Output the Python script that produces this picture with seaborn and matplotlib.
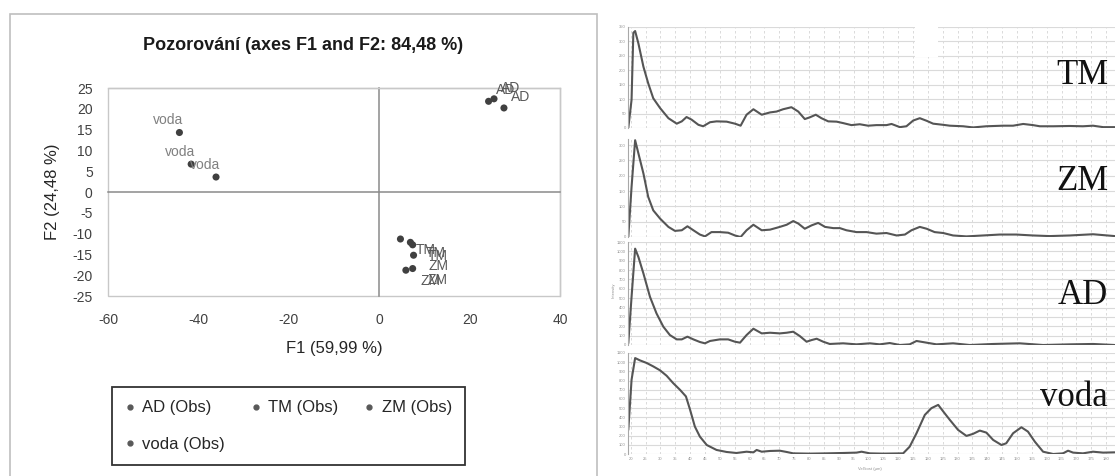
import numpy as np
import pandas as pd
import matplotlib
matplotlib.use("Agg")
import matplotlib.pyplot as plt
import seaborn as sns
from matplotlib.patches import Rectangle
from matplotlib.lines import Line2D

# ---------------- PCA scatter data ----------------
groups = ["AD", "TM", "ZM", "voda"]
ad_f1 = [24.2, 25.4, 27.6]
ad_f2 = [21.8, 22.4, 20.2]
tm_f1 = [4.7, 6.9, 7.4]
tm_f2 = [-11.3, -12.1, -12.7]
zm_f1 = [7.6, 5.9, 7.4]
zm_f2 = [-15.2, -18.8, -18.4]
voda_f1 = [-44.2, -41.6, -36.1]
voda_f2 = [14.3, 6.7, 3.6]
x_ticks = [-60, -40, -20, 0, 20, 40]
y_ticks = [-25, -20, -15, -10, -5, 0, 5, 10, 15, 20, 25]
title = "Pozorování (axes F1 and F2: 84,48 %)"
xlabel = "F1 (59,99 %)"
ylabel = "F2 (24,48 %)"
legend_labels = ["AD (Obs)", "TM (Obs)", "ZM (Obs)", "voda (Obs)"]

# ---------------- spectra data ----------------
spec_names = ["TM", "ZM", "AD", "voda"]
tm_x = [19.2, 20.3, 20.9, 21.5, 22.6, 24.3, 25.9, 27.6, 29.9, 32.7, 35.5, 37.2, 38.8, 40.5, 42.8, 44.4,
        46.7, 48.9, 52.3, 55.1, 57.0, 59.0, 61.3, 64.1, 66.9, 69.1, 71.3, 74.1, 76.4, 78.6, 80.3, 82.3,
        84.2, 86.5, 89.3, 91.5, 94.3, 97.1, 99.9, 102.7, 106.1, 107.8, 110.6, 112.8, 115.1, 117.3, 119.6,
        121.8, 125.2, 127.4, 131.9, 135.2, 139.7, 145.3, 148.7, 152.1, 155.4, 157.7, 162.2, 167.8, 172.2,
        175.6, 179.0, 182.9]
tm_y = [0, 98, 330, 336, 293, 212, 155, 103, 69, 34, 15, 23, 38, 29, 11, 6,
        20, 23, 22, 15, 8, 46, 65, 46, 54, 57, 65, 72, 57, 31, 37, 46,
        34, 23, 22, 17, 10, 13, 8, 10, 10, 14, 3, 6, 26, 34, 25,
        15, 11, 8, 6, 2, 6, 8, 8, 14, 10, 6, 6, 7, 6,
        8, 3, 3]
zm_x = [19.2, 20.3, 21.5, 22.6, 24.3, 25.9, 27.6, 29.9, 32.7, 34.9, 37.2, 39.1, 41.1, 43.3, 45.0, 47.2,
        50.0, 52.8, 55.1, 57.0, 59.0, 61.3, 64.1, 66.9, 70.2, 72.5, 74.7, 76.4, 78.6, 80.9, 83.1, 85.4,
        88.2, 90.4, 92.6, 96.0, 99.4, 102.7, 106.1, 109.5, 112.3, 114.5, 117.3, 119.6, 122.3, 125.2,
        128.5, 133.0, 138.6, 144.2, 149.8, 155.4, 161.0, 167.8, 175.6, 182.9]
zm_y = [0, 164, 316, 273, 207, 131, 87, 60, 33, 20, 22, 35, 22, 8, 2, 16,
        16, 14, 5, 0, 22, 40, 22, 24, 33, 40, 52, 44, 27, 38, 46, 33,
        29, 29, 22, 16, 16, 11, 13, 5, 8, 22, 33, 27, 16, 13,
        5, 2, 5, 8, 8, 5, 3, 5, 9, 3]
ad_x = [19.2, 20.3, 21.5, 22.6, 24.3, 26.5, 28.7, 31.0, 33.2, 35.5, 37.2, 39.1, 41.1, 43.3, 45.0, 46.7,
        50.0, 52.8, 55.1, 56.8, 59.0, 61.3, 64.1, 66.9, 70.2, 72.5, 74.7, 76.9, 79.2, 80.9, 82.6, 84.8,
        87.0, 91.5, 96.0, 100.5, 103.8, 107.2, 110.6, 113.9, 116.2, 119.0, 122.9, 128.5, 134.1, 142.0,
        150.9, 158.8, 167.8, 175.6, 182.9]
ad_y = [18, 514, 1029, 940, 763, 514, 337, 195, 106, 60, 60, 89, 60, 32, 18, 43,
        60, 60, 35, 25, 106, 174, 124, 131, 124, 131, 142, 96, 35, 53, 67, 35,
        11, 18, 7, 18, 7, 21, 0, 7, 43, 28, 7, 18, 0, 11,
        18, 0, 7, 11, 0]
voda_x = [19.2, 20.3, 21.5, 23.1, 25.4, 27.6, 29.9, 32.1, 34.3, 36.6, 38.6, 40.0, 41.6, 43.3, 45.6, 48.9,
          52.3, 55.6, 59.0, 61.3, 62.4, 64.1, 66.9, 70.2, 72.5, 74.7, 80.3, 85.9, 91.5, 96.0, 97.7, 100.5,
          105.0, 111.7, 113.9, 116.2, 119.0, 121.2, 123.5, 125.2, 127.4, 130.2, 133.0, 135.2, 137.5, 139.7,
          142.0, 144.8, 146.4, 148.7, 151.5, 153.7, 156.0, 158.8, 162.2, 165.5, 167.2, 168.9, 172.2, 175.6,
          179.0, 182.9]
voda_y = [262, 809, 1045, 1020, 991, 954, 911, 852, 772, 699, 627, 481, 299, 189, 98, 44,
          22, 11, 25, 18, 44, 25, 33, 36, 22, 7, 4, 7, 11, 15, 25, 7,
          4, 7, 80, 226, 426, 499, 535, 463, 372, 262, 197, 219, 255, 233,
          153, 98, 117, 226, 291, 244, 135, 25, 0, 7, 36, 15, 7, 25,
          15, 18]
spec_xticks = list(range(20, 185, 5))
tm_yticks = [0, 50, 100, 150, 200, 250, 300, 350]
zm_yticks = [0, 50, 100, 150, 200, 250, 300]
ad_yticks = [0, 100, 200, 300, 400, 500, 600, 700, 800, 900, 1000, 1100]
voda_yticks = [0, 100, 200, 300, 400, 500, 600, 700, 800, 900, 1000, 1100]
spec_xlabel = "Velikost (µm)"
spec_ylabel = "Intensity"

# ---------------- figure ----------------
sns.set_style("white")
plt.rcParams["font.family"] = ["Liberation Sans", "DejaVu Sans"]
plt.rcParams["axes.unicode_minus"] = False

W, H = 1115, 476
fig = plt.figure(figsize=(W / 100, H / 100), dpi=100)


def rect(l, t, r, b):
    return [l / W, 1 - b / H, (r - l) / W, (b - t) / H]


def fx(px):
    return px / W


def fy(py):
    return 1 - py / H


# outer box of left chart
fig.patches.append(Rectangle((fx(10), -0.02), fx(597) - fx(10), fy(14) + 0.02,
                             transform=fig.transFigure, fill=False, ec="#bfbfbf", lw=1.2))

ax = fig.add_axes(rect(108, 88, 560, 296))
df = pd.DataFrame({
    "F1": ad_f1 + tm_f1 + zm_f1 + voda_f1,
    "F2": ad_f2 + tm_f2 + zm_f2 + voda_f2,
    "grp": ["AD"] * len(ad_f1) + ["TM"] * len(tm_f1) + ["ZM"] * len(zm_f1) + ["voda"] * len(voda_f1),
})
sns.scatterplot(data=df, x="F1", y="F2", hue="grp", palette={g: "#404040" for g in groups},
                s=26, edgecolor="none", legend=False, ax=ax, zorder=5)
ax.set_xlim(x_ticks[0], x_ticks[-1])
ax.set_ylim(y_ticks[0], y_ticks[-1])
ax.set_xlabel("")
ax.set_ylabel("")
for s in ["top", "right"]:
    ax.spines[s].set_color("#c8c8c8")
    ax.spines[s].set_linewidth(1)
ax.spines["left"].set_position(("data", 0))
ax.spines["bottom"].set_position(("data", 0))
for s in ["left", "bottom"]:
    ax.spines[s].set_color("#8a8a8a")
    ax.spines[s].set_linewidth(1.1)
ax.add_patch(Rectangle((0, 0), 1, 1, transform=ax.transAxes, fill=False, ec="#c8c8c8", lw=1,
                       clip_on=False, zorder=0))
ax.set_yticks(y_ticks)
ax.tick_params(axis="y", direction="inout", length=8, width=1, color="#8a8a8a", labelleft=False)
ax.set_xticks([])

secx = ax.secondary_xaxis("bottom")
secx.set_xticks(x_ticks)
secx.tick_params(length=0, labelsize=10, pad=12, labelcolor="#404040")
secx.spines["bottom"].set_visible(False)
secy = ax.secondary_yaxis("left")
secy.set_yticks(y_ticks)
secy.tick_params(length=0, labelsize=10, pad=11, labelcolor="#404040")
secy.spines["left"].set_visible(False)

# point labels
label_style = {
    "AD": dict(off=(12, 8), color="#595959"),
    "TM": dict(off=(18, -8), color="#595959"),
    "ZM": dict(off=(18, -8), color="#595959"),
    "voda": dict(off=(-8, 9), color="#808080"),
}
for g, xs, ys in [("AD", ad_f1, ad_f2), ("TM", tm_f1, tm_f2), ("ZM", zm_f1, zm_f2), ("voda", voda_f1, voda_f2)]:
    st = label_style[g]
    for xv, yv in zip(xs, ys):
        ax.annotate(g, (xv, yv), xytext=st["off"], textcoords="offset points", ha="center", va="center",
                    fontsize=10, color=st["color"], zorder=6)

fig.text(fx(303), fy(45), title, ha="center", va="center", fontsize=13, fontweight="bold", color="#1a1a1a")
fig.text(fx(334), fy(348), xlabel, ha="center", va="center", fontsize=12, color="#262626")
fig.text(fx(53), fy(192), ylabel, ha="center", va="center", fontsize=12, rotation=90, color="#262626")

handles = [Line2D([], [], marker="o", ls="none", color="#595959", markersize=3.5) for _ in legend_labels]
order = [0, 3, 1, 2]
leg = fig.legend([handles[i] for i in order], [legend_labels[i] for i in order], ncol=3,
                 loc="upper left", bbox_to_anchor=(fx(112), fy(387)), borderaxespad=0,
                 frameon=True, fancybox=False, edgecolor="black", fontsize=12,
                 handlelength=0.5, handletextpad=0.5, columnspacing=1.6, labelspacing=1.3,
                 borderpad=0.8)
leg.get_frame().set_linewidth(1.3)
for t in leg.get_texts():
    t.set_color("#262626")

# ---------------- spectra ----------------
panels = [
    ("TM", tm_x, tm_y, (27, 128), (0, 350), tm_yticks, 75),
    ("ZM", zm_x, zm_y, (139, 237), (0, 320), zm_yticks, 182),
    ("AD", ad_x, ad_y, (242, 345), (0, 1100), ad_yticks, 296),
    ("voda", voda_x, voda_y, (353, 454), (0, 1100), voda_yticks, 398),
]
for i, (name, xs, ys, (top, bot), ylim, yt, ty) in enumerate(panels):
    a = fig.add_axes(rect(628, top, 1115, bot))
    a.set_axisbelow(True)
    sns.lineplot(x=xs, y=ys, ax=a, color="#555555", lw=1.5, sort=False, estimator=None)
    a.set_xlim(19.1, 183)
    a.set_ylim(*ylim)
    a.set_yticks(yt)
    a.set_xticks(spec_xticks)
    a.grid(axis="y", color="#dadada", lw=0.8)
    a.grid(axis="x", color="#d4d4d4", lw=0.6, ls=(0, (3, 3)))
    for s in ["top", "right", "bottom"]:
        a.spines[s].set_visible(False)
    a.spines["left"].set_color("#a8a8a8")
    a.spines["left"].set_linewidth(0.8)
    a.tick_params(axis="y", length=0, labelsize=3, labelcolor="#909090", pad=1.5)
    a.tick_params(axis="x", length=0, labelsize=3, labelcolor="#909090", pad=2,
                  labelbottom=(i == len(panels) - 1))
    a.set_xlabel("")
    a.set_ylabel("")
    fig.text(fx(1108), fy(ty), name, ha="right", va="center", fontsize=25,
             family=["Liberation Serif", "DejaVu Serif"], color="#111111")

fig.text(fx(870), fy(469), spec_xlabel, ha="center", va="center", fontsize=3, color="#909090")
fig.text(fx(614), fy(290), spec_ylabel, ha="center", va="center", fontsize=3, rotation=90, color="#909090")
fig.patches.append(Rectangle((fx(915), fy(57)), fx(938) - fx(915), fy(20) - fy(57),
                             transform=fig.transFigure, fc="white", ec="none", zorder=3))

fig.savefig("out.png", dpi=100)
